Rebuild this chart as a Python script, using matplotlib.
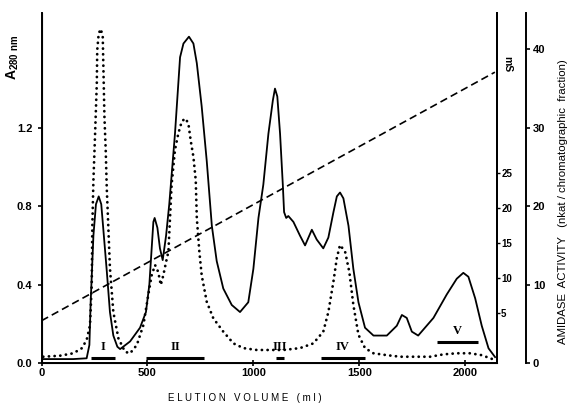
import matplotlib
matplotlib.use('Agg')
from matplotlib import pyplot as plt

plt.rcParams['font.family'] = ['Liberation Sans', 'DejaVu Sans']
plt.rcParams['font.weight'] = 'bold'
plt.rcParams['mathtext.fontset'] = 'custom'
plt.rcParams['mathtext.rm'] = 'Liberation Sans:bold'
plt.rcParams['mathtext.bf'] = 'Liberation Sans:bold'

# Absorbance at 280 nm (solid line)
volume_a280 = [0, 150, 213, 226, 232, 245, 257, 270, 282, 295, 308, 323, 339, 358, 371,
               418, 465, 493, 509, 520, 528, 534, 547, 559, 572, 588, 603, 630, 654, 670,
               696, 717, 733, 756, 780, 804, 827, 858, 898, 937, 976, 1000, 1024, 1047,
               1071, 1092, 1102, 1113, 1126, 1139, 1145, 1155, 1165, 1189, 1220, 1244,
               1276, 1299, 1330, 1354, 1378, 1394, 1409, 1425, 1449, 1472, 1496, 1527,
               1567, 1630, 1677, 1701, 1724, 1748, 1778, 1850, 1913, 1960, 1991, 2015,
               2047, 2078, 2110, 2141]
a280 = [0.02, 0.02, 0.024, 0.092, 0.31, 0.65, 0.81, 0.85, 0.81, 0.64, 0.47, 0.26, 0.14,
        0.083, 0.071, 0.11, 0.18, 0.26, 0.40, 0.585, 0.72, 0.74, 0.69, 0.585, 0.525, 0.65,
        0.81, 1.17, 1.56, 1.63, 1.665, 1.63, 1.53, 1.31, 1.03, 0.70, 0.52, 0.38, 0.296,
        0.26, 0.31, 0.48, 0.74, 0.91, 1.17, 1.34, 1.40, 1.36, 1.17, 0.91, 0.77, 0.74, 0.75,
        0.72, 0.65, 0.60, 0.68, 0.63, 0.585, 0.64, 0.77, 0.85, 0.87, 0.84, 0.70, 0.48, 0.31,
        0.18, 0.14, 0.14, 0.19, 0.245, 0.23, 0.16, 0.14, 0.23, 0.35, 0.43, 0.46, 0.44, 0.33,
        0.19, 0.075, 0.03]

# Amidase activity (dotted line), nkat / fraction
volume_activity = [8, 87, 150, 190, 213, 229, 237, 240, 245, 253, 261, 263, 270, 280, 289,
                   292, 297, 303, 308, 315, 323, 339, 363, 394, 418, 450, 481, 504, 520,
                   536, 551, 563, 575, 588, 599, 614, 630, 646, 662, 678, 693, 704, 717,
                   728, 733, 745, 756, 780, 811, 858, 906, 953, 1016, 1079, 1142, 1220,
                   1283, 1330, 1354, 1378, 1394, 1409, 1433, 1453, 1472, 1496, 1527, 1567,
                   1630, 1693, 1834, 1897, 1960, 2023, 2078, 2118, 2141]
activity = [0.8, 0.93, 1.24, 1.88, 2.93, 4.85, 9.95, 17.6, 23.3, 29.3, 35.7, 39.9, 42.05,
            42.6, 41.6, 37.8, 31.4, 27.2, 22.3, 17.6, 12.1, 6.5, 3.15, 1.44, 1.23, 2.3, 4.85,
            8.7, 11.2, 12.5, 11.6, 9.95, 11.2, 12.9, 14.2, 22.7, 27.2, 29.3, 30.8, 31.2, 30.6,
            28.4, 26.3, 23.3, 18.5, 14.2, 11.2, 7.8, 5.7, 4.0, 2.5, 1.9, 1.66, 1.66, 1.66, 1.9,
            2.5, 4.0, 6.5, 10.4, 13.4, 15.05, 14.2, 11.6, 7.4, 3.6, 1.9, 1.24, 1.0, 0.8, 0.8,
            1.1, 1.24, 1.24, 1.0, 0.6, 0.38]

# Salt gradient (dashed line), conductivity in mS
gradient_volume = [0, 2140]
conductivity = [3.9, 39.4]

# Pooled fractions
pool_names = ['I', 'II', 'III', 'IV', 'V']
pool_start = [232, 494, 1107, 1318, 1866]
pool_end = [347, 767, 1145, 1527, 2062]
pool_level = [0.024, 0.024, 0.024, 0.024, 0.106]

a280_top = 1.786

fig = plt.figure(figsize=(5.71, 4.05), dpi=100)
ax = fig.add_axes([0.0727, 0.1037, 0.7977, 0.8643])

ax.plot(volume_a280, a280, color='black', linewidth=1.3)
for name, x0, x1, lev in zip(pool_names, pool_start, pool_end, pool_level):
    ax.plot([x0, x1], [lev, lev], color='black', linewidth=2.2, solid_capstyle='butt')
    ax.annotate(name, xy=((x0 + x1) / 2, lev), xytext=(0, 4), textcoords='offset points',
                ha='center', va='bottom', fontsize=9, family='Liberation Serif',
                fontweight='bold')

ax.set_xlim(0, 2150)
ax.set_ylim(0, a280_top)
ax.set_xticks([0, 500, 1000, 1500, 2000])
ax.set_yticks([0.0, 0.4, 0.8, 1.2])
ax.set_yticklabels(['0.0', '0.4', '0.8', '1.2'])
ax.tick_params(axis='both', labelsize=8, width=1.2, length=3)
ax.tick_params(axis='x', direction='inout', length=5, pad=1)
ax.spines['top'].set_visible(False)
for s in ['left', 'bottom', 'right']:
    ax.spines[s].set_linewidth(1.4)

ax.set_xlabel('E L U T I O N   V O L U M E   ( m l )', fontsize=7, labelpad=10)
ax.xaxis.set_label_coords(0.447, -0.085)
ax.text(-0.062, 0.875, r'A$_{\rm 280\ nm}$', transform=ax.transAxes, rotation=90,
        ha='center', va='center', fontsize=10)

# Conductivity axis on the right spine
ax2 = ax.twinx()
ax2.plot(gradient_volume, conductivity, color='black', linewidth=1.2,
         linestyle=(0, (4.5, 2.5)))
ax2.set_ylim(-2.14, 47.86)
ax2.set_yticks([5, 10, 15, 20, 25])
ax2.tick_params(axis='y', labelsize=7, length=2, width=1, pad=1)
ax2.spines['top'].set_visible(False)
ax2.spines['right'].set_linewidth(1.4)
ax2.text(1.022, 0.855, 'mS', transform=ax2.transAxes, rotation=-90, ha='center',
         va='center', fontsize=7.5)

# Activity axis, offset to the right
ax3 = ax.twinx()
ax3.plot(volume_activity, activity, color='black', linewidth=2.0,
         linestyle=(0, (0.05, 2.0)), dash_capstyle='round')
ax3.set_ylim(0, a280_top * 25)
ax3.set_yticks([0, 10, 20, 30, 40])
ax3.spines['right'].set_position(('axes', 1.0637))
ax3.spines['right'].set_linewidth(1.4)
ax3.spines['top'].set_visible(False)
ax3.spines['left'].set_visible(False)
ax3.spines['bottom'].set_visible(False)
ax3.tick_params(axis='y', labelsize=8, length=3, width=1.2, pad=2)
ax3.set_ylabel('AMIDASE  ACTIVITY   (nkat / chromatographic  fraction)', fontsize=8.2)
ax3.yaxis.set_label_coords(1.135, 0.46)

fig.savefig('out.png', dpi=100)
